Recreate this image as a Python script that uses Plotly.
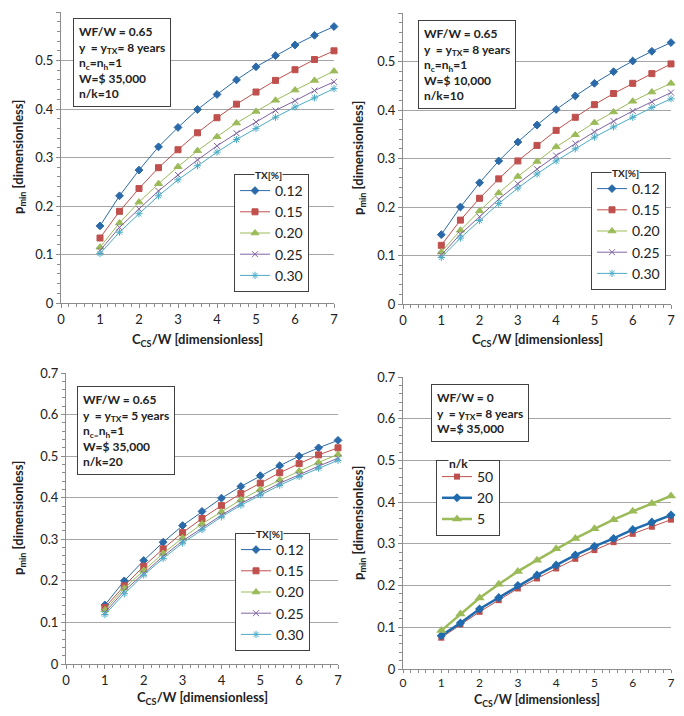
import plotly.graph_objects as go

# ---------------- data ----------------
x_vals = [1, 1.5, 2, 2.5, 3, 3.5, 4, 4.5, 5, 5.5, 6, 6.5, 7]
tx_labels = ["0.12", "0.15", "0.20", "0.25", "0.30"]

p1_012 = [0.159, 0.221, 0.274, 0.322, 0.362, 0.399, 0.430, 0.460, 0.487, 0.510, 0.532, 0.552, 0.570]
p1_015 = [0.134, 0.189, 0.236, 0.279, 0.316, 0.351, 0.382, 0.410, 0.435, 0.459, 0.481, 0.502, 0.520]
p1_020 = [0.115, 0.165, 0.208, 0.246, 0.281, 0.314, 0.343, 0.371, 0.395, 0.418, 0.439, 0.459, 0.478]
p1_025 = [0.108, 0.156, 0.194, 0.231, 0.264, 0.295, 0.324, 0.350, 0.373, 0.397, 0.417, 0.438, 0.456]
p1_030 = [0.102, 0.146, 0.184, 0.221, 0.254, 0.283, 0.311, 0.337, 0.360, 0.383, 0.404, 0.423, 0.442]

p2_012 = [0.143, 0.200, 0.250, 0.295, 0.334, 0.369, 0.401, 0.429, 0.455, 0.479, 0.501, 0.521, 0.539]
p2_015 = [0.121, 0.173, 0.218, 0.258, 0.295, 0.327, 0.358, 0.385, 0.411, 0.434, 0.455, 0.475, 0.495]
p2_020 = [0.107, 0.152, 0.192, 0.229, 0.263, 0.294, 0.324, 0.349, 0.374, 0.396, 0.418, 0.437, 0.455]
p2_025 = [0.101, 0.144, 0.180, 0.216, 0.248, 0.278, 0.306, 0.331, 0.355, 0.377, 0.398, 0.417, 0.436]
p2_030 = [0.096, 0.136, 0.172, 0.207, 0.239, 0.268, 0.295, 0.320, 0.344, 0.365, 0.385, 0.405, 0.423]

p3_012 = [0.142, 0.200, 0.249, 0.293, 0.333, 0.367, 0.399, 0.427, 0.453, 0.477, 0.500, 0.520, 0.538]
p3_015 = [0.136, 0.188, 0.235, 0.277, 0.316, 0.350, 0.381, 0.410, 0.435, 0.460, 0.482, 0.503, 0.520]
p3_020 = [0.130, 0.182, 0.225, 0.266, 0.303, 0.337, 0.366, 0.395, 0.420, 0.443, 0.464, 0.485, 0.504]
p3_025 = [0.124, 0.176, 0.218, 0.259, 0.296, 0.328, 0.358, 0.386, 0.411, 0.435, 0.455, 0.476, 0.495]
p3_030 = [0.119, 0.169, 0.214, 0.254, 0.291, 0.323, 0.354, 0.382, 0.407, 0.430, 0.451, 0.471, 0.490]

nk_labels = ["50", "20", "5"]
p4_50 = [0.075, 0.107, 0.137, 0.165, 0.193, 0.217, 0.241, 0.264, 0.285, 0.304, 0.324, 0.341, 0.358]
p4_20 = [0.080, 0.110, 0.144, 0.171, 0.200, 0.225, 0.249, 0.273, 0.294, 0.313, 0.334, 0.352, 0.369]
p4_5 = [0.092, 0.132, 0.170, 0.203, 0.234, 0.261, 0.288, 0.313, 0.336, 0.358, 0.378, 0.397, 0.415]

# ---------------- styling ----------------
FONT = "Lato"
OFF = 8  # page body margin
W, H = 684 - 2 * OFF, 716 - 2 * OFF
colors = ["#2A6AA8", "#C0504D", "#9BBB59", "#8064A2", "#4BACC6"]
symbols = ["diamond", "square", "triangle-up", "x-thin-open", "asterisk-open"]
msizes = [6, 6, 7, 6, 6]


def px(v):
    return (v - OFF) / W


def py(v):
    return 1 - (v - OFF) / H


# panel geometry in window pixels: (x0, x1, ytop, ybot)
panels = [
    (61, 334, 12, 303),
    (403, 671, 13, 304),
    (66, 338, 373, 664),
    (403, 671, 377, 669),
]

fig = go.Figure()

tx_series = [
    [p1_012, p1_015, p1_020, p1_025, p1_030],
    [p2_012, p2_015, p2_020, p2_025, p2_030],
    [p3_012, p3_015, p3_020, p3_025, p3_030],
]
legend_names = ["legend", "legend2", "legend3", "legend4"]
axis_ids = [("x", "y"), ("x2", "y2"), ("x3", "y3"), ("x4", "y4")]

for pi, series in enumerate(tx_series):
    xa, ya = axis_ids[pi]
    for i, ys in enumerate(series):
        fig.add_trace(go.Scatter(
            x=x_vals, y=ys, mode="lines+markers", name=tx_labels[i],
            xaxis=xa, yaxis=ya, legend=legend_names[pi],
            legendgroup=f"p{pi}_{i}",
            line=dict(color=colors[i], width=1),
            marker=dict(symbol=symbols[i], size=msizes[i], color=colors[i],
                        line=dict(color=colors[i], width=1)),
            cliponaxis=False,
        ))

p4_series = [p4_50, p4_20, p4_5]
p4_colors = ["#C0504D", "#1F6BAE", "#9BBB59"]
p4_symbols = ["square", "diamond", "triangle-up"]
p4_widths = [1, 2.5, 2.5]
p4_sizes = [6, 7, 9]
for i, ys in enumerate(p4_series):
    fig.add_trace(go.Scatter(
        x=x_vals, y=ys, mode="lines+markers", name=nk_labels[i],
        xaxis="x4", yaxis="y4", legend="legend4",
        legendgroup=f"p4_{i}",
        line=dict(color=p4_colors[i], width=p4_widths[i]),
        marker=dict(symbol=p4_symbols[i], size=p4_sizes[i], color=p4_colors[i]),
        cliponaxis=False,
    ))

layout = dict(
    width=W, height=H, margin=dict(l=0, r=0, t=0, b=0, autoexpand=False),
    paper_bgcolor="white", plot_bgcolor="white",
    font=dict(family=FONT, size=13, color="#222"),
    showlegend=True,
)

ymaxes = [0.6, 0.6, 0.7, 0.7]
for k, (x0, x1, yt, yb) in enumerate(panels):
    sfx = "" if k == 0 else str(k + 1)
    layout["xaxis" + sfx] = dict(
        domain=[px(x0), px(x1)], anchor="y" + sfx, range=[0, 7],
        dtick=1, tick0=0, showgrid=False, zeroline=False, automargin=False,
        showline=True, linecolor="#8C8C8C", linewidth=1,
        ticks="outside", ticklen=4 if k < 3 else 3, tickcolor="#8C8C8C",
        minor=dict(dtick=0.2, ticks="outside", ticklen=3, tickcolor="#8C8C8C"),
        tickfont=dict(family=FONT, size=13 if k < 3 else 12, color="#222"),
        fixedrange=True,
    )
    layout["yaxis" + sfx] = dict(
        domain=[py(yb), py(yt)], anchor="x" + sfx, range=[0, ymaxes[k]],
        dtick=0.1, tick0=0, showgrid=True, gridcolor="#A6A6A6", gridwidth=1,
        zeroline=False, showline=True, linecolor="#8C8C8C", linewidth=1,
        automargin=False,
        ticks="outside", ticklen=4, tickcolor="#8C8C8C",
        minor=dict(dtick=0.02, ticks="outside", ticklen=3, tickcolor="#8C8C8C", showgrid=False),
        tickfont=dict(family=FONT, size=13, color="#222"),
        tickformat=".1~f",
        fixedrange=True,
    )

# legends: (left, top) window pixels
leg_pos = [(234, 174), (591, 172), (235, 533), (436, 460)]
leg_titles = ["TX[%]", "TX[%]", "TX[%]", "n/k"]
leg_title_pos = [(268, 175), (625, 173), (269, 534), (458, 463)]
annotations = []
for k, (lx, ly) in enumerate(leg_pos):
    name = legend_names[k]
    layout[name] = dict(
        x=px(lx), y=py(ly), xanchor="left", yanchor="top",
        bgcolor="white", bordercolor="#404040", borderwidth=1,
        font=dict(family=FONT, size=14, color="#222"),
        tracegroupgap=5 if k < 3 else 3,
        itemwidth=30,
        traceorder="normal",
    )
    annotations.append(dict(
        text=f"<b>{leg_titles[k]}</b>", x=px(leg_title_pos[k][0]), y=py(leg_title_pos[k][1]),
        xref="paper", yref="paper", xanchor="center", yanchor="middle",
        showarrow=False, bgcolor="white", borderpad=0,
        font=dict(family=FONT, size=10 if k < 3 else 12, color="#222"),
    ))

info_texts = [
    "WF/W = 0.65<br>y  = y<sub>TX</sub>= 8 years<br>n<sub>c</sub>=n<sub>h</sub>=1<br>W=$ 35,000<br>n/k=10",
    "WF/W = 0.65<br>y  = y<sub>TX</sub>= 8 years<br>n<sub>c</sub>=n<sub>h</sub>=1<br>W=$ 10,000<br>n/k=10",
    "WF/W = 0.65<br>y  = y<sub>TX</sub>= 5 years<br>n<sub>c=</sub>n<sub>h</sub>=1<br>W=$ 35,000<br>n/k=20",
    "WF/W = 0<br>y  = y<sub>TX</sub>= 8 years<br>W=$ 35,000",
]
info_pos = [(73, 18), (418, 20), (77, 386), (431, 384)]
for k, txt in enumerate(info_texts):
    annotations.append(dict(
        text=f"<b>{txt}</b>", x=px(info_pos[k][0]), y=py(info_pos[k][1]),
        xref="paper", yref="paper", xanchor="left", yanchor="top",
        showarrow=False, align="left",
        font=dict(family=FONT, size=12, color="#222"),
        bordercolor="#404040", borderwidth=1, borderpad=5, bgcolor="white",
    ))

xt_pos = [(197, 340), (537, 340), (202, 698), (537, 700)]
xt_size = [13, 13, 13, 12.5]
yt_pos = [(19, 157), (359, 158), (19, 518), (359, 523)]
for k in range(4):
    annotations.append(dict(
        text="<b>C<sub>CS</sub>/W [dimensionless]</b>",
        x=px(xt_pos[k][0]), y=py(xt_pos[k][1]), xref="paper", yref="paper",
        xanchor="center", yanchor="middle", showarrow=False,
        font=dict(family=FONT, size=xt_size[k], color="#222"),
    ))
    annotations.append(dict(
        text="<b>p<sub>min</sub> [dimensionless]</b>",
        x=px(yt_pos[k][0]), y=py(yt_pos[k][1]), xref="paper", yref="paper",
        xanchor="center", yanchor="middle", showarrow=False, textangle=-90,
        font=dict(family=FONT, size=13, color="#222"),
    ))

layout["annotations"] = annotations
fig.update_layout(**layout)
fig.write_html("out.html")
